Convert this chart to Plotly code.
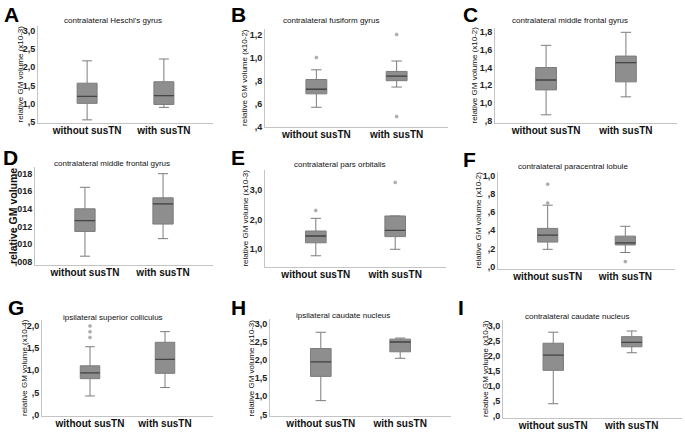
import plotly.graph_objects as go

W, H = 685, 448

groups = ["without susTN", "with susTN"]
letters = ["A", "B", "C", "D", "E", "F", "G", "H", "I"]
titles = [
    "contralateral Heschl's gyrus",
    "contralateral fusiform gyrus",
    "contralateral middle frontal gyrus",
    "contralateral middle frontal gyrus",
    "contralateral pars orbitalis",
    "contralateral paracentral lobule",
    "ipsilateral superior colliculus",
    "ipsilateral caudate nucleus",
    "contralateral caudate nucleus",
]
ytitles = [
    "relative GM volume (x10-3)",
    "relative GM volume (x10-2)",
    "relative GM volume (x10-2)",
    "relative GM volume",
    "relative GM volume (x10-3)",
    "relative GM volume (x10-2)",
    "relative GM volume (x10-4)",
    "relative GM volume (x10-3)",
    "relative GM volume (x10-3)",
]

# box statistics per panel: [without susTN, with susTN]
lowerfence = [[0.56, 0.90], [0.57, 0.745], [0.863, 1.067], [0.0086, 0.0106], [0.78, 1.00],
              [0.19, 0.155], [0.42, 0.61], [0.88, 2.05], [0.39, 2.10]]
q1 = [[1.01, 0.98], [0.686, 0.80], [1.146, 1.237], [0.01142, 0.01226], [1.22, 1.43],
      [0.27, 0.238], [0.81, 0.93], [1.55, 2.23], [1.51, 2.30]]
median = [[1.20, 1.22], [0.726, 0.84], [1.258, 1.455], [0.01265, 0.01455], [1.45, 1.64],
          [0.345, 0.26], [0.94, 1.245], [1.95, 2.50], [2.02, 2.45]]
q3 = [[1.56, 1.60], [0.81, 0.88], [1.40, 1.53], [0.0140, 0.01525], [1.62, 2.13],
      [0.42, 0.335], [1.10, 1.63], [2.32, 2.58], [2.42, 2.64]]
upperfence = [[2.17, 2.22], [0.894, 0.97], [1.652, 1.80], [0.01645, 0.0180], [2.05, 2.13],
              [0.675, 0.443], [1.53, 1.87], [2.77, 2.61], [2.79, 2.83]]
outliers = [
    [[], []],
    [[1.00], [1.20, 0.49]],
    [[], []],
    [[], []],
    [[2.32], [3.27]],
    [[0.906, 0.70], [0.055]],
    [[2.00, 1.87, 1.74], []],
    [[], []],
    [[], []],
]

yranges = [[0.465, 3.13], [0.397, 1.25], [0.766, 1.853], [0.00755, 0.01879], [0.386, 3.70],
           [-0.03, 1.043], [-0.04, 2.14], [0.445, 3.145], [-0.10, 3.21]]
tickvals = [
    [0.5, 1.0, 1.5, 2.0, 2.5, 3.0],
    [0.4, 0.6, 0.8, 1.0, 1.2],
    [0.8, 1.0, 1.2, 1.4, 1.6, 1.8],
    [0.008, 0.010, 0.012, 0.014, 0.016, 0.018],
    [1.0, 2.0, 3.0],
    [0.0, 0.2, 0.4, 0.6, 0.8, 1.0],
    [0.0, 0.5, 1.0, 1.5, 2.0],
    [0.5, 1.0, 1.5, 2.0, 2.5, 3.0],
    [0.0, 0.5, 1.0, 1.5, 2.0, 2.5, 3.0],
]
ticktext = [
    [",5", "1,0", "1,5", "2,0", "2,5", "3,0"],
    [",4", ",6", ",8", "1,0", "1,2"],
    [",8", "1,0", "1,2", "1,4", "1,6", "1,8"],
    [",008", ",010", ",012", ",014", ",016", ",018"],
    ["1,0", "2,0", "3,0"],
    [",0", ",2", ",4", ",6", ",8", "1,0"],
    [",0", ",5", "1,0", "1,5", "2,0"],
    [",5", "1,0", "1,5", "2,0", "2,5", "3,0"],
    [",0", ",5", "1,0", "1,5", "2,0", "2,5", "3,0"],
]

# layout (pixel boxes of plot areas: x0, x1, y0(top), y1(bottom))
areas = [(38, 213, 25, 124), (265, 448, 28, 128), (495, 677, 27, 124),
         (35, 213, 168, 268), (265, 446, 171, 270), (498, 675, 173, 272),
         (42, 213, 323, 421), (270, 451, 322, 421), (503, 682, 323, 423)]
letter_pos = [(2, 0), (229, 0), (461, 0), (1, 145), (229, 145), (461, 147),
              (6, 297), (229, 297), (456, 297)]
title_pos = [(113, 20), (331, 20), (570, 20), (112, 165), (340, 166), (573, 168),
             (113, 321), (343, 319), (577, 320)]
ytitle_x = [21, 245, 474, 13, 246, 479, 24, 252, 485]

FONT = "Liberation Sans, Arial, sans-serif"
BOXW = 0.26
fig = go.Figure()
annotations = []

for i in range(9):
    ax = "" if i == 0 else str(i + 1)
    xref, yref = "x" + ax, "y" + ax
    for g in range(2):
        fig.add_trace(go.Box(
            x=[g], q1=[q1[i][g]], median=[median[i][g]], q3=[q3[i][g]],
            lowerfence=[lowerfence[i][g]], upperfence=[upperfence[i][g]],
            width=BOXW, whiskerwidth=0.5, fillcolor="#8e8e8e",
            line=dict(color="#7c7c7c", width=1), boxpoints=False,
            xaxis=xref, yaxis=yref, showlegend=False, hoverinfo="skip"))
        fig.add_trace(go.Scatter(
            x=[g - BOXW / 2, g + BOXW / 2], y=[median[i][g]] * 2, mode="lines",
            line=dict(color="#454545", width=1.3), xaxis=xref, yaxis=yref,
            showlegend=False, hoverinfo="skip"))
        if outliers[i][g]:
            fig.add_trace(go.Scatter(
                x=[g] * len(outliers[i][g]), y=outliers[i][g], mode="markers",
                marker=dict(size=3, color="#b0b0b0", line=dict(color="#959595", width=0.5)),
                xaxis=xref, yaxis=yref, showlegend=False, hoverinfo="skip"))

    x0, x1, yt, yb = areas[i]
    xa = dict(domain=[x0 / W, x1 / W], range=[-0.64, 1.64], anchor=yref,
              tickvals=[0, 1], ticktext=groups, showgrid=False, zeroline=False,
              showline=True, linecolor="#c4c4c4", linewidth=1, ticks="",
              ticklabelstandoff=-2,
              tickfont=dict(family=FONT, size=10, color="#111", weight="bold"))
    ya = dict(domain=[1 - yb / H, 1 - yt / H], range=yranges[i], anchor=xref,
              tickvals=tickvals[i], ticktext=ticktext[i], showgrid=False, zeroline=False,
              showline=True, linecolor="#c4c4c4", linewidth=1, ticks="",
              tickfont=dict(family=FONT, size=9, color="#222", weight="bold"))
    fig.update_layout(**{"xaxis" + ax: xa, "yaxis" + ax: ya})

    lx, ly = letter_pos[i]
    annotations.append(dict(text="<b>" + letters[i] + "</b>", x=lx / W, y=1 - ly / H,
                            xref="paper", yref="paper", xanchor="left", yanchor="top",
                            showarrow=False, font=dict(family=FONT, size=21, color="#000")))
    tx, ty = title_pos[i]
    annotations.append(dict(text=titles[i], x=tx / W, y=1 - ty / H, xref="paper", yref="paper",
                            xanchor="center", yanchor="middle", showarrow=False,
                            font=dict(family=FONT, size=8, color="#111")))
    big = (i == 3)
    annotations.append(dict(text=ytitles[i], x=ytitle_x[i] / W, y=1 - (yt + yb) / 2 / H,
                            xref="paper", yref="paper", xanchor="center", yanchor="middle",
                            textangle=-90, showarrow=False,
                            font=dict(family=FONT, size=10.5 if big else 8, color="#111",
                                      weight="bold" if big else "normal")))

fig.update_layout(width=W, height=H, margin=dict(l=0, r=0, t=0, b=0),
                  paper_bgcolor="white", plot_bgcolor="white",
                  annotations=annotations)

fig.write_html("out.html", config={"displayModeBar": False},
               post_script="document.body.style.margin='0';document.body.style.overflow='hidden';")
